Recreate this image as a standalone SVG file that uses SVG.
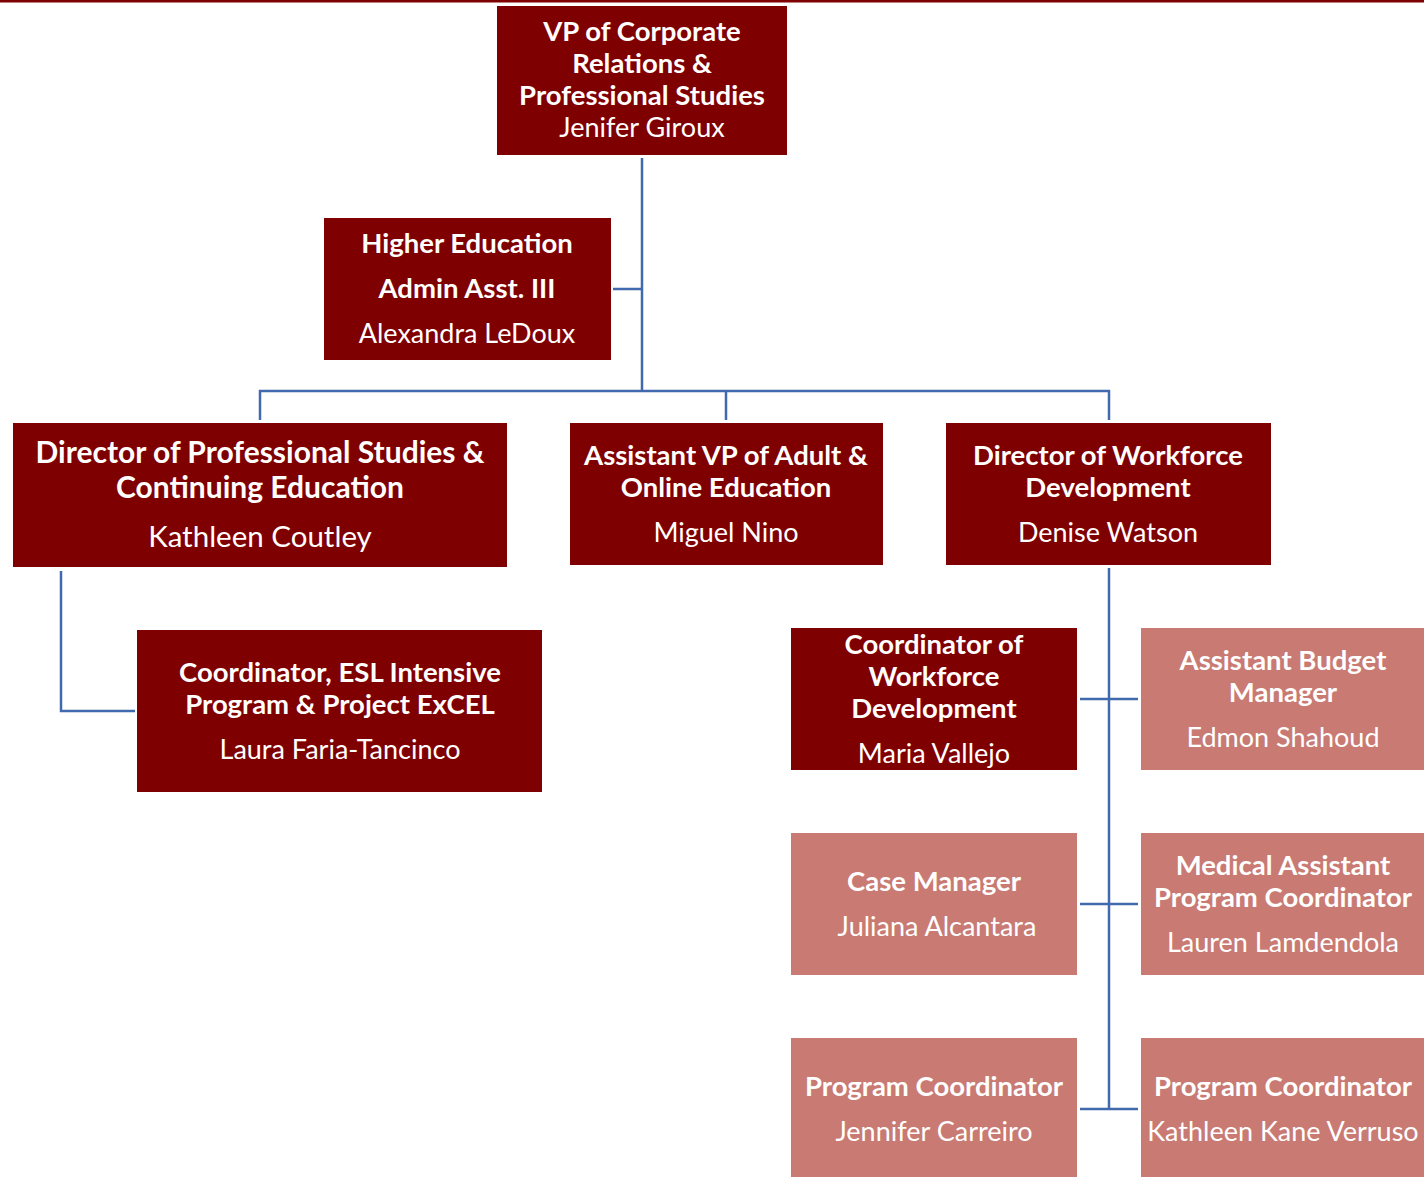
<svg xmlns="http://www.w3.org/2000/svg" width="1424" height="1177" viewBox="0 0 1424 1177">
<style>
.dk{fill:#7f0000}
.lt{fill:#c87a73}
.t{font-family:Lato,"Liberation Sans",sans-serif;fill:#fff;text-anchor:middle}
.b{font-weight:bold;font-size:27.5px}
.n{font-size:27px}
.c{fill:none;stroke:#4169ad;stroke-width:2.5}
</style>
<rect x="0" y="0" width="1424" height="2.5" fill="#7f0000"/>
<g id="connectors">
<path class="c" d="M642 158V391M613 289H642M260 420V391H1109V420M726 391V420"/>
<path class="c" d="M61 571V711H135"/>
<path class="c" d="M1109 568V1109M1080 699H1138M1080 904H1138M1080 1109H1138"/>
</g>
<g id="vp"><rect class="dk" x="497" y="6" width="290" height="149"/>
<text class="t b" x="642" y="41">VP of Corporate</text>
<text class="t b" x="642" y="73">Relations &amp;</text>
<text class="t b" x="642" y="105">Professional Studies</text>
<text class="t n" x="642" y="137">Jenifer Giroux</text></g>
<g id="admin"><rect class="dk" x="324" y="218" width="287" height="142"/>
<text class="t b" x="467" y="253">Higher Education</text>
<text class="t b" x="467" y="298">Admin Asst. III</text>
<text class="t n" x="467" y="343">Alexandra LeDoux</text></g>
<g id="dirps"><rect class="dk" x="13" y="423" width="494" height="144"/>
<text class="t b" x="260" y="463" style="font-size:30px">Director of Professional Studies &amp;</text>
<text class="t b" x="260" y="498" style="font-size:30px">Continuing Education</text>
<text class="t n" x="260" y="547" style="font-size:29.5px">Kathleen Coutley</text></g>
<g id="avp"><rect class="dk" x="570" y="423" width="313" height="142"/>
<text class="t b" x="726" y="465">Assistant VP of Adult  &amp;</text>
<text class="t b" x="726" y="497">Online Education</text>
<text class="t n" x="726" y="542">Miguel Nino</text></g>
<g id="dirwd"><rect class="dk" x="946" y="423" width="325" height="142"/>
<text class="t b" x="1108" y="465">Director of Workforce</text>
<text class="t b" x="1108" y="497">Development</text>
<text class="t n" x="1108" y="542">Denise Watson</text></g>
<g id="esl"><rect class="dk" x="137" y="630" width="405" height="162"/>
<text class="t b" x="340" y="682">Coordinator, ESL Intensive</text>
<text class="t b" x="340" y="714">Program &amp; Project ExCEL</text>
<text class="t n" x="340" y="759">Laura Faria-Tancinco</text></g>
<g id="cwd"><rect class="dk" x="791" y="628" width="286" height="142"/>
<text class="t b" x="934" y="654">Coordinator of</text>
<text class="t b" x="934" y="686">Workforce</text>
<text class="t b" x="934" y="718">Development</text>
<text class="t n" x="934" y="763">Maria Vallejo</text></g>
<g id="abm"><rect class="lt" x="1141" y="628" width="283" height="142"/>
<text class="t b" x="1283" y="670">Assistant Budget</text>
<text class="t b" x="1283" y="702">Manager</text>
<text class="t n" x="1283" y="747">Edmon Shahoud</text></g>
<g id="cm"><rect class="lt" x="791" y="833" width="286" height="142"/>
<text class="t b" x="934" y="891">Case Manager</text>
<text class="t n" x="937" y="936">Juliana Alcantara</text></g>
<g id="mapc"><rect class="lt" x="1141" y="833" width="283" height="142"/>
<text class="t b" x="1283" y="875">Medical Assistant</text>
<text class="t b" x="1283" y="907">Program Coordinator</text>
<text class="t n" x="1283" y="952">Lauren Lamdendola</text></g>
<g id="pc1"><rect class="lt" x="791" y="1038" width="286" height="139"/>
<text class="t b" x="934" y="1096">Program Coordinator</text>
<text class="t n" x="934" y="1141">Jennifer Carreiro</text></g>
<g id="pc2"><rect class="lt" x="1141" y="1038" width="283" height="139"/>
<text class="t b" x="1283" y="1096">Program Coordinator</text>
<text class="t n" x="1283" y="1141">Kathleen Kane Verruso</text></g>
</svg>
